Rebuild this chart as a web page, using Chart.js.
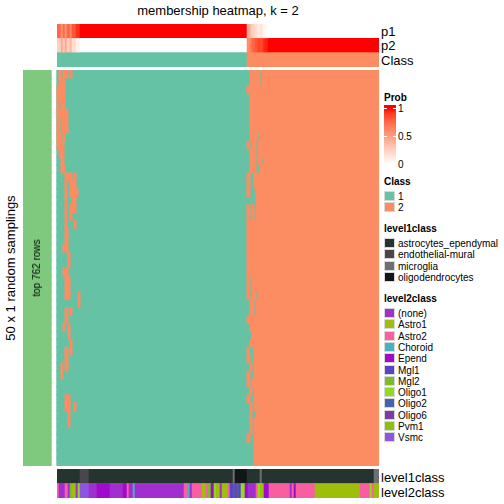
<!DOCTYPE html>
<html>
<head>
<meta charset="utf-8">
<script src="https://cdn.jsdelivr.net/npm/chart.js@4.4.0/dist/chart.umd.min.js"></script>
<style>
body { margin: 0; background: #fff; font-family: "Liberation Sans", Arial, sans-serif; }
#wrap { position: relative; width: 504px; height: 504px; overflow: hidden; }
#wrap canvas { position: absolute; }
.t { position: absolute; white-space: nowrap; line-height: 1; color: #000; }
.sw { position: absolute; width: 11px; height: 10px; border: 1px solid #d8d8d8; box-sizing: border-box; }
</style>
</head>
<body>
<div id="wrap">
  <canvas id="topAnno" width="322" height="43" style="left:57px;top:24px"></canvas>
  <canvas id="heat" width="356" height="396" style="left:23px;top:70px"></canvas>
  <canvas id="bottomAnno" width="322" height="29" style="left:57px;top:469px"></canvas>
</div>
<script>
// columnas = muestras ordenadas (0..322), filas = 50 muestreos aleatorios
const nCols = 322;
const annoRows = ['p1', 'p2', 'Class'];
const probEdges = [0, 4, 6, 8, 10, 13, 15, 19, 23, 190, 193, 195, 198, 201, 203, 206, 208, 211, 322];
const p1Values = [0.75, 0.56, 0.74, 0.55, 0.76, 0.62, 0.82, 0.93, 1, 0.42, 0.35, 0.24, 0.17, 0.1, 0.14, 0.06, 0.03, 0];

const samplingRows = Array.from({length: 50}, (_, i) => 'r' + (i + 1));
const groupLabel = 'top 762 rows';
// tramos de la clase 2 en cada muestreo (el resto es clase 1)
const class2Runs = [
  [[2,4],[6,11],[13,15],[193,203],[205,322]],
  [[2,8],[193,203],[205,322]],
  [[0,8],[190,322]],
  [[0,8],[193,322]],
  [[0,2],[4,8],[193,322]],
  [[0,11],[193,322]],
  [[0,3],[5,11],[193,322]],
  [[0,2],[4,11],[193,322]],
  [[0,4],[6,8],[193,201],[203,322]],
  [[0,7],[190,193],[195,199],[201,322]],
  [[2,7],[193,199],[201,322]],
  [[4,7],[193,199],[201,205],[207,322]],
  [[4,8],[193,199],[203,322]],
  [[8,15],[17,19],[190,193],[197,322]],
  [[8,10],[13,19],[190,193],[197,322]],
  [[8,10],[13,21],[190,193],[199,322]],
  [[8,10],[15,19],[199,322]],
  [[8,10],[13,19],[190,193],[195,197],[199,322]],
  [[8,10],[13,15],[190,193],[195,197],[199,322]],
  [[8,10],[17,19],[190,322]],
  [[8,11],[190,322]],
  [[8,11],[190,322]],
  [[6,11],[190,322]],
  [[11,13],[190,322]],
  [[11,13],[190,322]],
  [[6,11],[190,322]],
  [[8,13],[190,193],[195,322]],
  [[8,13],[190,193],[195,322]],
  [[8,13],[21,23],[190,193],[195,199],[201,322]],
  [[21,23],[193,197],[199,322]],
  [[8,11],[13,15],[193,197],[199,322]],
  [[8,11],[190,322]],
  [[6,8],[11,13],[193,322]],
  [[11,13],[195,322]],
  [[13,15],[193,322]],
  [[8,11],[13,15],[190,192],[197,322]],
  [[8,11],[190,193],[197,322]],
  [[4,6],[8,11],[193,195],[197,322]],
  [[4,6],[190,193],[197,322]],
  [[190,193],[195,322]],
  [[193,195],[197,322]],
  [[8,13],[190,193],[197,322]],
  [[8,13],[17,19],[193,195],[197,199],[200,322]],
  [[11,13],[193,195],[199,322]],
  [[11,13],[193,195],[197,322]],
  [[193,195],[197,322]],
  [[190,193],[197,322]],
  [[197,322]],
  [[197,322]],
  [[197,322]]
];

const level1Names = ['astrocytes_ependymal', 'endothelial-mural', 'microglia', 'oligodendrocytes'];
const level1Runs = [
  [0,23,'astrocytes_ependymal'],[23,32,'endothelial-mural'],[32,176,'astrocytes_ependymal'],
  [176,178,'microglia'],[178,190,'oligodendrocytes'],[190,203,'astrocytes_ependymal'],
  [203,205,'microglia'],[205,317,'astrocytes_ependymal'],[317,322,'microglia']
];
const level2Names = ['(none)', 'Astro1', 'Astro2', 'Choroid', 'Epend', 'Mgl1', 'Mgl2', 'Oligo1', 'Oligo2', 'Oligo6', 'Pvm1', 'Vsmc'];
const level2Runs = [
  [0,2,'Astro2'],[2,8,'(none)'],[8,11,'Astro2'],[11,13,'(none)'],[13,15,'Mgl2'],[15,19,'Astro1'],
  [19,21,'(none)'],[21,23,'Oligo1'],[23,32,'Vsmc'],[32,40,'(none)'],[40,53,'Epend'],[53,66,'(none)'],
  [66,70,'Epend'],[70,72,'Astro2'],[72,76,'(none)'],[76,78,'Choroid'],[78,127,'(none)'],[127,131,'Astro2'],
  [131,133,'Choroid'],[133,135,'(none)'],[135,145,'Astro2'],[145,149,'Astro1'],[149,151,'Astro2'],
  [151,154,'Mgl2'],[154,157,'Epend'],[157,159,'Oligo1'],[159,163,'Astro1'],[163,165,'(none)'],
  [165,171,'Astro1'],[171,173,'Astro2'],[173,176,'Mgl1'],[176,178,'Oligo2'],[178,180,'Oligo6'],
  [180,182,'Oligo2'],[182,184,'Mgl1'],[184,188,'Oligo1'],[188,191,'Epend'],[191,199,'(none)'],
  [199,201,'Astro2'],[201,203,'Oligo1'],[203,207,'Astro1'],[207,212,'Epend'],[212,233,'Astro2'],
  [233,235,'(none)'],[235,237,'Astro2'],[237,239,'Epend'],[239,258,'Astro2'],[258,303,'Astro1'],
  [303,313,'Astro2'],[313,315,'Oligo1'],[315,317,'Astro2'],[317,322,'Astro1']
];

// colores
const classColors = {1: '#66C2A5', 2: '#FC8D62'};
const groupColor = '#7FC97F';
const level1Colors = {
  'astrocytes_ependymal': '#263430', 'endothelial-mural': '#4B464E',
  'microglia': '#6D7073', 'oligodendrocytes': '#131617'
};
const level2Colors = {
  '(none)': '#A12ECF', 'Astro1': '#9DBE0B', 'Astro2': '#F95EA0', 'Choroid': '#4AB2BE',
  'Epend': '#A00ACD', 'Mgl1': '#5C42C8', 'Mgl2': '#7CBB2A', 'Oligo1': '#91DC1A',
  'Oligo2': '#4563B0', 'Oligo6': '#7E3AA8', 'Pvm1': '#8DBF10', 'Vsmc': '#8C56E2'
};

// blanco -> rojo interpolado en LAB
function probColor(p) {
  p = Math.max(0, Math.min(1, p));
  const L = 100 + (53.24 - 100) * p, A = 80.09 * p, B = 67.2 * p;
  const fy = (L + 16) / 116, fx = A / 500 + fy, fz = fy - B / 200;
  const inv = t => t * t * t > 0.008856 ? t * t * t : (t - 16 / 116) / 7.787;
  const x = 0.95047 * inv(fx), y = inv(fy), z = 1.08883 * inv(fz);
  const lin = [3.2406 * x - 1.5372 * y - 0.4986 * z, -0.9689 * x + 1.8758 * y + 0.0415 * z, 0.0557 * x - 0.204 * y + 1.057 * z];
  const rgb = lin.map(c => {
    c = c <= 0.0031308 ? 12.92 * c : 1.055 * Math.pow(c, 1 / 2.4) - 0.055;
    return Math.round(255 * Math.max(0, Math.min(1, c)));
  });
  return 'rgb(' + rgb.join(',') + ')';
}

function strip(id, labels, sets, xmin, xmax) {
  return new Chart(document.getElementById(id), {
    type: 'bar',
    data: {
      labels: labels,
      datasets: sets.map(s => ({
        data: s.data,
        backgroundColor: ctx => ctx.raw ? s.color(ctx.raw) : 'rgba(0,0,0,0)',
        barPercentage: 1, categoryPercentage: 1, grouped: false,
        borderWidth: 0, borderSkipped: false,
        inflateAmount: s.inflate !== undefined ? s.inflate : 0.5
      }))
    },
    options: {
      indexAxis: 'y', responsive: false, animation: false, events: [],
      layout: {padding: 0},
      plugins: {legend: {display: false}, tooltip: {enabled: false}},
      scales: {
        x: {type: 'linear', min: xmin, max: xmax, display: false},
        y: {display: false}
      }
    }
  });
}

// anotación superior
const topData = [];
for (let i = 0; i < p1Values.length; i++) {
  const a = probEdges[i], b = probEdges[i + 1], p1 = p1Values[i];
  topData.push({y: 'p1', x: [a, b], v: p1, kind: 'prob'});
  topData.push({y: 'p2', x: [a, b], v: 1 - p1, kind: 'prob'});
  topData.push({y: 'Class', x: [a, b], v: p1 >= 0.5 ? 1 : 2, kind: 'class'});
}
strip('topAnno', annoRows, [
  {data: topData, color: r => r.kind === 'prob' ? probColor(r.v) : classColors[r.v], inflate: 0.3}
], 0, nCols);

// heatmap principal
const class2Data = [], class1Data = [], groupData = [];
samplingRows.forEach((r, i) => {
  class1Data.push({y: r, x: [0, nCols]});
  groupData.push({y: r, x: [-34, -6]});
  class2Runs[i].forEach(seg => class2Data.push({y: r, x: seg}));
});
strip('heat', samplingRows, [
  {data: class2Data, color: () => classColors[2], inflate: 0.5},
  {data: class1Data, color: () => classColors[1], inflate: 0.7},
  {data: groupData, color: () => groupColor, inflate: 0.7}
], -34, nCols);

// anotación inferior
const bottomData = [];
level1Runs.forEach(([a, b, k]) => bottomData.push({y: 'level1class', x: [a, b], c: level1Colors[k]}));
level2Runs.forEach(([a, b, k]) => bottomData.push({y: 'level2class', x: [a, b], c: level2Colors[k]}));
strip('bottomAnno', ['level1class', 'level2class'], [
  {data: bottomData, color: r => r.c, inflate: 0.3}
], 0, nCols);

// textos
const wrap = document.getElementById('wrap');
function txt(s, x, y, size, extra) {
  const d = document.createElement('div');
  d.className = 't';
  d.textContent = s;
  d.style.left = x + 'px';
  d.style.top = y + 'px';
  d.style.fontSize = size + 'px';
  d.style.transform = 'translateY(-50%)';
  Object.assign(d.style, extra || {});
  wrap.appendChild(d);
  return d;
}
txt('membership heatmap, k = 2', 218, 10, 13, {transform: 'translate(-50%,-50%)'});
txt('p1', 381, 31, 13);
txt('p2', 381, 45, 13);
txt('Class', 381, 60, 13);
txt('level1class', 381, 477, 13);
txt('level2class', 381, 492, 13);
txt('50 x 1 random samplings', 10, 268, 13, {transform: 'translate(-50%,-50%) rotate(-90deg)'});
txt(groupLabel, 37, 268, 10, {transform: 'translate(-50%,-50%) rotate(-90deg)'});

// leyendas
const lx = 384;
txt('Prob', lx, 98, 10, {fontWeight: 'bold'});
const grad = document.createElement('div');
const stops = [];
for (let k = 0; k <= 10; k++) stops.push(probColor(1 - k / 10) + ' ' + (3 + k * 5.6) + 'px');
grad.style.cssText = 'position:absolute;left:' + lx + 'px;top:105px;width:12px;height:62px;background:linear-gradient(to bottom,' + stops.join(',') + ');';
wrap.appendChild(grad);
[[1, 108], [0.5, 136], [0, 164]].forEach(([v, y]) => {
  ['0px', '9px'].forEach(l => {
    const tk = document.createElement('div');
    tk.style.cssText = 'position:absolute;left:' + (lx + parseInt(l)) + 'px;top:' + y + 'px;width:3px;height:1px;background:#fff;';
    wrap.appendChild(tk);
  });
  txt(String(v), 398, y + 1, 10);
});

function legendBlock(title, names, colors, y0) {
  txt(title, lx, y0, 10, {fontWeight: 'bold'});
  names.forEach((n, i) => {
    const cy = y0 + 14 + i * 11.3;
    const s = document.createElement('div');
    s.className = 'sw';
    s.style.left = lx + 'px';
    s.style.top = (cy - 5) + 'px';
    s.style.background = colors[n];
    wrap.appendChild(s);
    txt(n, 398, cy + 1, 10);
  });
}
legendBlock('Class', ['1', '2'], classColors, 182);
legendBlock('level1class', level1Names, level1Colors, 229);
legendBlock('level2class', level2Names, level2Colors, 299);
</script>
</body>
</html>
